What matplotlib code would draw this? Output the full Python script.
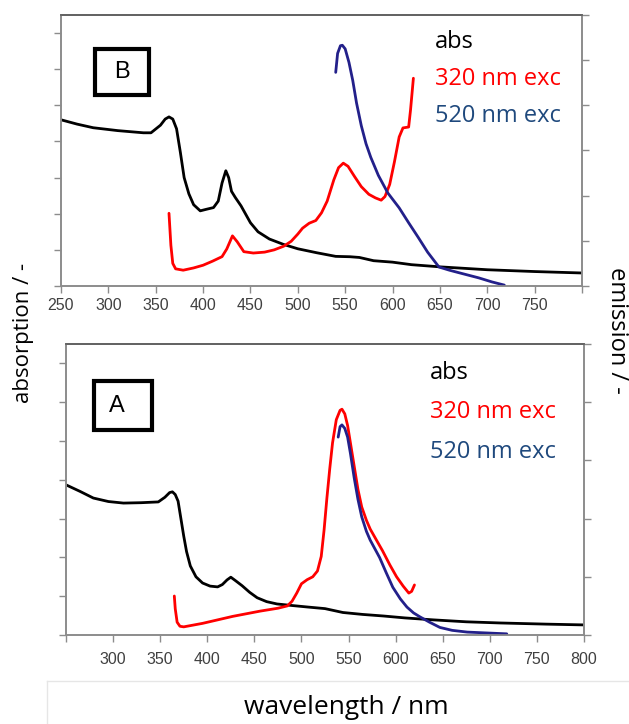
import matplotlib.pyplot as plt
from matplotlib.patches import Rectangle

# panel B (top) - absorption
b_abs_x = [250, 267, 284, 310, 337, 345, 355, 360, 364, 368, 372, 376, 380, 385, 390, 397, 403, 411, 416,
           420, 424, 427, 430, 434, 440, 450, 458, 470, 485, 500, 520, 540, 555, 565, 580, 600, 620, 650,
           700, 750, 800]
b_abs_y = [4.60, 4.48, 4.38, 4.30, 4.24, 4.24, 4.45, 4.62, 4.68, 4.62, 4.35, 3.70, 3.00, 2.55, 2.25, 2.08,
           2.12, 2.17, 2.35, 2.85, 3.19, 3.00, 2.62, 2.45, 2.22, 1.75, 1.50, 1.30, 1.15, 1.03, 0.92, 0.82,
           0.81, 0.79, 0.70, 0.66, 0.59, 0.53, 0.45, 0.40, 0.36]
# panel B - emission 320 nm exc
b_e320_x = [364, 366, 368, 371, 379, 390, 400, 410, 420, 425, 431, 436, 443, 453, 465, 475, 485, 493, 500,
            505, 512, 519, 525, 531, 538, 543, 548, 553, 560, 567, 575, 582, 588, 592, 597, 602, 607, 611,
            617, 619, 622]
b_e320_y = [1.61, 0.90, 0.50, 0.38, 0.35, 0.40, 0.46, 0.55, 0.65, 0.82, 1.11, 0.98, 0.76, 0.73, 0.75, 0.80,
            0.88, 0.99, 1.15, 1.28, 1.39, 1.45, 1.62, 1.88, 2.35, 2.62, 2.72, 2.65, 2.42, 2.20, 2.03, 1.95,
            1.90, 1.98, 2.25, 2.75, 3.30, 3.50, 3.52, 3.90, 4.60]
# panel B - emission 520 nm exc
b_e520_x = [540, 542, 545, 547, 550, 554, 558, 562, 567, 572, 577, 585, 595, 607, 617, 627, 637, 649, 660,
            669, 680, 691, 705, 718]
b_e520_y = [4.73, 5.15, 5.32, 5.33, 5.25, 4.95, 4.55, 4.05, 3.55, 3.15, 2.85, 2.45, 2.06, 1.73, 1.40, 1.08,
            0.75, 0.42, 0.35, 0.30, 0.24, 0.18, 0.09, 0.02]

# panel A (bottom) - absorption
a_abs_x = [250, 265, 279, 295, 311, 330, 348, 355, 360, 363, 366, 369, 372, 375, 378, 382, 388, 395, 403,
           411, 416, 421, 425, 430, 437, 445, 453, 463, 474, 490, 507, 525, 544, 565, 587, 610, 640, 675,
           711, 760, 800]
a_abs_y = [3.87, 3.70, 3.53, 3.44, 3.40, 3.41, 3.43, 3.55, 3.67, 3.69, 3.62, 3.45, 3.00, 2.55, 2.15, 1.78,
           1.50, 1.34, 1.26, 1.24, 1.30, 1.42, 1.49, 1.40, 1.27, 1.10, 0.96, 0.86, 0.80, 0.76, 0.72, 0.68,
           0.58, 0.53, 0.49, 0.44, 0.39, 0.34, 0.31, 0.28, 0.26]
# panel A - emission 320 nm exc
a_e320_x = [365, 366, 368, 371, 375, 395, 427, 456, 475, 485, 490, 495, 500, 506, 512, 517, 521, 524, 527,
            530, 533, 537, 541, 543, 546, 549, 552, 556, 560, 564, 569, 573, 580, 586, 594, 601, 608, 614,
            617, 620]
a_e320_y = [0.67, 0.45, 0.22, 0.15, 0.14, 0.20, 0.32, 0.41, 0.46, 0.50, 0.58, 0.72, 0.88, 0.95, 1.00, 1.10,
            1.35, 1.80, 2.35, 2.85, 3.30, 3.70, 3.86, 3.88, 3.80, 3.60, 3.30, 2.90, 2.50, 2.20, 1.97, 1.82,
            1.62, 1.45, 1.20, 1.00, 0.84, 0.72, 0.75, 0.86]
# panel A - emission 520 nm exc
a_e520_x = [539, 541, 543, 546, 549, 552, 556, 560, 564, 569, 573, 578, 583, 590, 597, 605, 612, 619, 626,
            636, 647, 660, 676, 718]
a_e520_y = [3.40, 3.58, 3.61, 3.55, 3.40, 3.12, 2.70, 2.33, 2.03, 1.78, 1.63, 1.48, 1.33, 1.07, 0.82, 0.62,
            0.48, 0.38, 0.31, 0.22, 0.13, 0.08, 0.05, 0.02]

legend_labels = ["abs", "320 nm exc", "520 nm exc"]
legend_colors = ["black", "#ff0000", "#1f497d"]
xticks = list(range(250, 801, 50))

fig = plt.figure(figsize=(6.29, 7.24), dpi=100)
txtfont = "Open Sans"
line_kw = dict(lw=2.0, solid_joinstyle="round", solid_capstyle="round")


def style_panel(ax, ax2, ymax_l, ymax_r, labels):
    ax.set_xlim(250, 800)
    ax.set_ylim(0, ymax_l)
    ax2.set_ylim(0, ymax_r)
    ax.set_xticks(xticks)
    ax.set_xticklabels(labels, fontsize=11.5, color="#404040", family="Liberation Sans")
    ax.set_yticks(range(0, int(ymax_l) + 1))
    ax.set_yticklabels([])
    ax2.set_yticks(range(0, int(ymax_r) + 1))
    ax2.set_yticklabels([])
    for a in (ax, ax2):
        for s in a.spines.values():
            s.set_color("#8c8c8c")
            s.set_linewidth(1.2)
        a.spines["top"].set_color("#606060")
        a.tick_params(direction="out", length=5, width=1, color="#8c8c8c", pad=4)


# top panel B
axB = fig.add_axes([61 / 629, 1 - 286 / 724, 521 / 629, 271 / 724])
axB2 = axB.twinx()
axB.plot(b_abs_x, b_abs_y, color="black", **line_kw)
axB2.plot(b_e320_x, b_e320_y, color="#ff0000", **line_kw)
axB2.plot(b_e520_x, b_e520_y, color="#23208a", **line_kw)
style_panel(axB, axB2, 7.5, 6, [str(v) for v in xticks[:-1]] + [""])

# bottom panel A
axA = fig.add_axes([66 / 629, 1 - 635 / 724, 518 / 629, 291 / 724])
axA2 = axA.twinx()
axA.plot(a_abs_x, a_abs_y, color="black", **line_kw)
axA2.plot(a_e320_x, a_e320_y, color="#ff0000", **line_kw)
axA2.plot(a_e520_x, a_e520_y, color="#23208a", **line_kw)
style_panel(axA, axA2, 7.5, 5, [""] + [str(v) for v in xticks[1:]])
axA.tick_params(axis="x", pad=7)

# panel letters in boxes
fig.patches.append(Rectangle((95 / 629, 1 - 95 / 724), 54 / 629, 46 / 724, transform=fig.transFigure,
                             fill=False, edgecolor="black", lw=3))
fig.text(122 / 629, 1 - 72 / 724, "B", fontsize=17, family="Liberation Sans", ha="center", va="center")
fig.patches.append(Rectangle((94 / 629, 1 - 430 / 724), 58 / 629, 49 / 724, transform=fig.transFigure,
                             fill=False, edgecolor="black", lw=3))
fig.text(117 / 629, 1 - 406 / 724, "A", fontsize=17, family="Liberation Sans", ha="center", va="center")

# legend text
for i, (lab, col) in enumerate(zip(legend_labels, legend_colors)):
    fig.text(435 / 629, 1 - (42 + 37 * i) / 724, lab, color=col, fontsize=17, family=txtfont, va="center")
    fig.text(430 / 629, 1 - (373 + 39.5 * i) / 724, lab, color=col, fontsize=17, family=txtfont, va="center")

# axis labels
fig.text(23 / 629, 1 - 333 / 724, "absorption / -", rotation=90, fontsize=16, family=txtfont,
         ha="center", va="center")
fig.text(617 / 629, 1 - 330 / 724, "emission / -", rotation=-90, fontsize=17, family=txtfont,
         ha="center", va="center")
fig.text(346 / 629, 1 - 708 / 724, "wavelength / nm", fontsize=19, family=txtfont, ha="center", va="center")

# faint frame around the x label
fig.lines.append(plt.Line2D([47 / 629, 1], [1 - 681 / 724, 1 - 681 / 724], transform=fig.transFigure,
                            color="#e6e6e6", lw=1))
fig.lines.append(plt.Line2D([47 / 629, 47 / 629], [0, 1 - 681 / 724], transform=fig.transFigure,
                            color="#e6e6e6", lw=1))

fig.savefig("out.png", dpi=100)
